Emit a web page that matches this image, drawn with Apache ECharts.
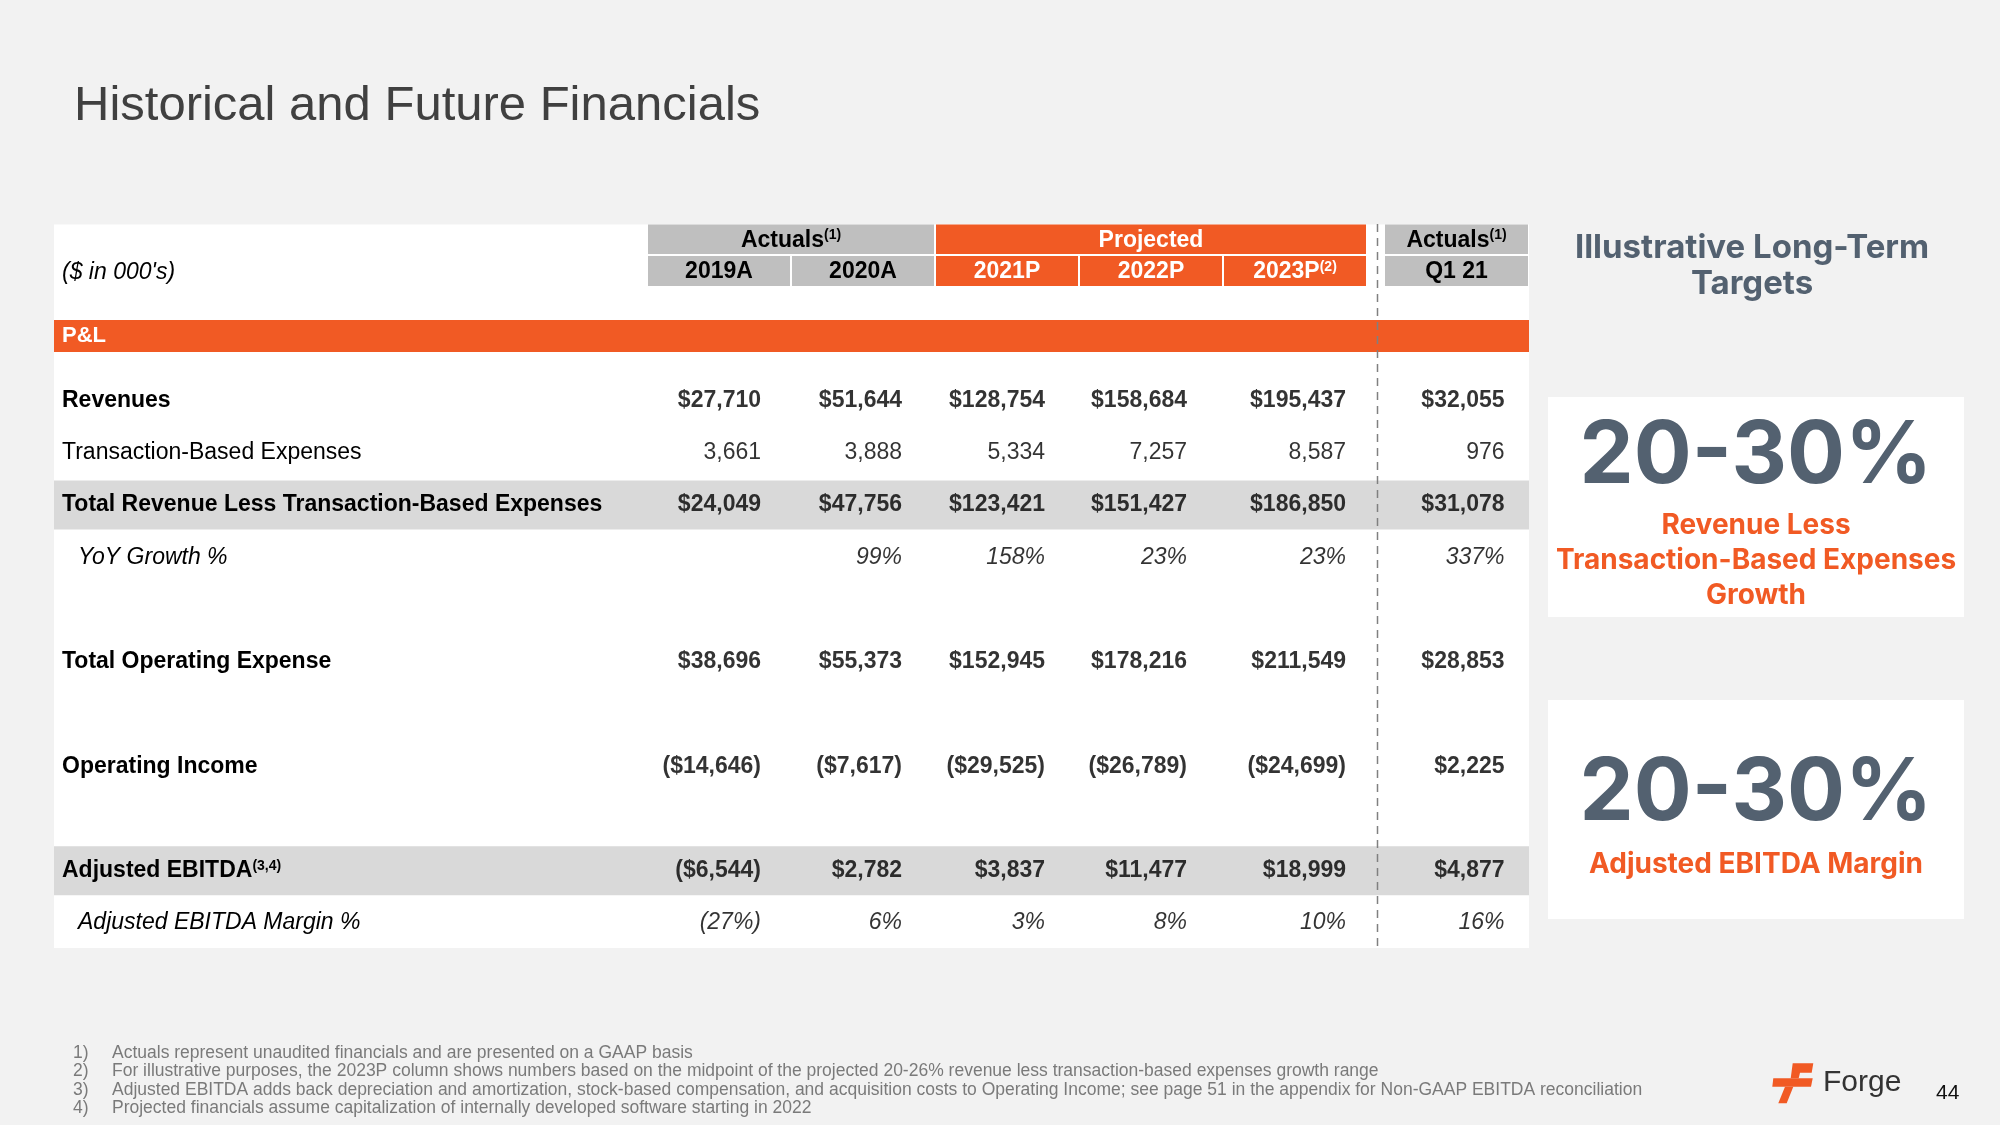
<!DOCTYPE html>
<html><head><meta charset="utf-8">
<script src="https://cdn.jsdelivr.net/npm/echarts@6/dist/echarts.min.js"></script>
<style>html,body{margin:0;padding:0;background:#f2f2f2}#c{width:2000px;height:1125px}</style>
</head><body><div id="c"></div>
<script>
// ---------- DATA ----------
const columns = ['2019A', '2020A', '2021P', '2022P', '2023P', 'Q1 21'];
const columnGroups = ['Actuals', 'Actuals', 'Projected', 'Projected', 'Projected', 'Actuals'];
const headerNotes = { 'Actuals': '(1)', '2023P': '(2)', 'Adjusted EBITDA': '(3,4)' };
const rowNames = ['Revenues', 'Transaction-Based Expenses', 'Total Revenue Less Transaction-Based Expenses',
  'YoY Growth %', 'Total Operating Expense', 'Operating Income', 'Adjusted EBITDA', 'Adjusted EBITDA Margin %'];
const revenues = [27710, 51644, 128754, 158684, 195437, 32055];
const transactionExpenses = [3661, 3888, 5334, 7257, 8587, 976];
const totalRevenueLessTBE = [24049, 47756, 123421, 151427, 186850, 31078];
const yoyGrowthPct = [null, 99, 158, 23, 23, 337];
const totalOperatingExpense = [38696, 55373, 152945, 178216, 211549, 28853];
const operatingIncome = [-14646, -7617, -29525, -26789, -24699, 2225];
const adjustedEbitda = [-6544, 2782, 3837, 11477, 18999, 4877];
const adjustedEbitdaMarginPct = [-27, 6, 3, 8, 10, 16];
const targetValues = ['20-30%', '20-30%'];
const targetLabels = ['Revenue Less\nTransaction-Based Expenses\nGrowth', 'Adjusted EBITDA Margin'];
const footnotes = [
  'Actuals represent unaudited financials and are presented on a GAAP basis',
  'For illustrative purposes, the 2023P column shows numbers based on the midpoint of the projected 20-26% revenue less transaction-based expenses growth range',
  'Adjusted EBITDA adds back depreciation and amortization, stock-based compensation, and acquisition costs to Operating Income; see page 51 in the appendix for Non-GAAP EBITDA reconciliation',
  'Projected financials assume capitalization of internally developed software starting in 2022'
];

// ---------- STYLE ----------
const FONT = '"Liberation Sans", Arial, sans-serif';
const FONT2 = 'Inter, "Liberation Sans", sans-serif';
const ORANGE = '#f15a24', HGRAY = '#bfbfbf', BAND = '#d9d9d9', SLATE = '#536170';
const FS = 23;
const G = { top: 374.5, bottom: 176 };
const gridA = Object.assign({ left: 54, right: 471 }, G);
const gridB = Object.assign({ left: 647, width: 720 }, G);
const gridC = Object.assign({ left: 1384, width: 145 }, G);
const cellPad = [42, 39, 38, 36, 51, 48];

// row table (spacer rows mirror the blank rows of the source sheet)
const rowSpecs = [
  { name: rowNames[0], values: revenues, fmt: 'dollar', weight: 'bold', style: 'normal' },
  { name: rowNames[1], values: transactionExpenses, fmt: 'plain', weight: 'normal', style: 'normal' },
  { name: rowNames[2], values: totalRevenueLessTBE, fmt: 'dollar', weight: 'bold', style: 'normal', shaded: true },
  { name: rowNames[3], values: yoyGrowthPct, fmt: 'pct', weight: 'normal', style: 'italic' },
  { name: rowNames[4], values: totalOperatingExpense, fmt: 'dollar', weight: 'bold', style: 'normal' },
  { name: rowNames[5], values: operatingIncome, fmt: 'dollar', weight: 'bold', style: 'normal' },
  { name: rowNames[6], values: adjustedEbitda, fmt: 'dollar', weight: 'bold', style: 'normal', shaded: true },
  { name: rowNames[7], values: adjustedEbitdaMarginPct, fmt: 'pct', weight: 'normal', style: 'italic' }
];
const yRows = [rowNames[0], rowNames[1], rowNames[2], rowNames[3], 'sp1', rowNames[4], 'sp2', rowNames[5], 'sp3', rowNames[6], rowNames[7]];
const specOf = {}; rowSpecs.forEach(s => specOf[s.name] = s);

function num(v) { return Math.abs(v).toLocaleString('en-US'); }
function fmt(kind, v) {
  if (kind === 'dollar') return v < 0 ? '($' + num(v) + ')' : '$' + num(v);
  if (kind === 'pct') return v < 0 ? '(' + num(v) + '%)' : num(v) + '%';
  return v < 0 ? '(' + num(v) + ')' : num(v);
}

function cellSeries(axisIdx, colIdxs) {
  return rowSpecs.map(spec => ({
    type: 'scatter', xAxisIndex: axisIdx, yAxisIndex: axisIdx, symbolSize: 1, silent: true, z: 5,
    itemStyle: { color: 'rgba(0,0,0,0)' },
    label: { show: true, position: 'inside', align: 'right', verticalAlign: 'middle', fontFamily: FONT,
      fontSize: FS, fontWeight: spec.weight, fontStyle: spec.style, color: '#000', formatter: '{b}' },
    data: colIdxs.filter(c => spec.values[c] != null).map(c => ({
      name: fmt(spec.fmt, spec.values[c]), value: [columns[c], spec.name], label: { offset: [cellPad[c], 0] }
    }))
  }));
}

const richRow = {
  b: { fontFamily: FONT, fontSize: FS, fontWeight: 'bold', color: '#000' },
  r: { fontFamily: FONT, fontSize: FS, color: '#000' },
  i: { fontFamily: FONT, fontSize: FS, fontStyle: 'italic', color: '#000', padding: [0, 0, 0, 16] },
  s: { fontFamily: FONT, fontSize: 14, fontWeight: 'bold', color: '#000', padding: [0, 0, 10, 0] }
};

const chart = echarts.init(document.getElementById('c'));
const hiddenY = i => ({ type: 'category', gridIndex: i, data: yRows, inverse: true, show: false });
chart.setOption({
  backgroundColor: '#f2f2f2',
  animation: false,
  grid: [gridA, gridB, gridC],
  xAxis: [
    { type: 'value', gridIndex: 0, min: 0, max: 1, show: false },
    { type: 'category', gridIndex: 1, data: columns.slice(0, 5), show: false },
    { type: 'category', gridIndex: 2, data: columns.slice(5), show: false }
  ],
  yAxis: [
    { type: 'category', gridIndex: 0, data: yRows, inverse: true, z: 10,
      axisLine: { show: false }, axisTick: { show: false }, splitLine: { show: false },
      axisLabel: { inside: true, margin: 8, rich: richRow,
        formatter: v => {
          const s = specOf[v]; if (!s) return '';
          if (headerNotes[v]) return '{b|' + v + '}{s|' + headerNotes[v] + '}';
          return (s.style === 'italic' ? '{i|' : s.weight === 'bold' ? '{b|' : '{r|') + v + '}';
        } } },
    hiddenY(1), hiddenY(2)
  ],
  series: [
    { type: 'bar', xAxisIndex: 0, yAxisIndex: 0, barWidth: 49, silent: true, z: 1,
      itemStyle: { color: BAND },
      data: yRows.map(r => (specOf[r] && specOf[r].shaded) ? 1 : '-') }
  ].concat(cellSeries(1, [0, 1, 2, 3, 4]), cellSeries(2, [5]))
});

// ---------- headers & page furniture ----------
const xs = columns.map((c, i) => chart.convertToPixel({ xAxisIndex: i < 5 ? 1 : 2 }, c));
const bwOf = i => i < 5 ? (xs[1] - xs[0]) : gridC.width;
const g = [];
g.push({ type: 'rect', z: -5, shape: { x: 54, y: 224.5, width: 1475, height: 723.5 }, style: { fill: '#fff' } });
// P&L bar
g.push({ type: 'rect', z: 0, shape: { x: 54, y: 320, width: 1475, height: 32 }, style: { fill: ORANGE } });
g.push({ type: 'text', z: 20, style: { text: 'P&L', x: 62, y: 336, font: 'bold 22px ' + FONT, fill: '#fff', verticalAlign: 'middle' } });
g.push({ type: 'text', z: 20, style: { text: "($ in 000's)", x: 62, y: 273, font: 'italic 23px ' + FONT, fill: '#000', verticalAlign: 'middle' } });
// dashed separator
g.push({ type: 'line', z: 20, shape: { x1: 1377.5, y1: 224, x2: 1377.5, y2: 948 }, style: { stroke: '#808080', lineWidth: 1.5, lineDash: [8, 6] } });

const richHead = (color) => ({
  m: { fontFamily: FONT, fontSize: FS, fontWeight: 'bold', fill: color, color: color },
  s: { fontFamily: FONT, fontSize: 14, fontWeight: 'bold', fill: color, color: color, padding: [0, 0, 10, 0] }
});
const headText = (t) => headerNotes[t] ? '{m|' + t + '}{s|' + headerNotes[t] + '}' : '{m|' + t + '}';
// column cells
columns.forEach((c, i) => {
  const bw = bwOf(i), proj = columnGroups[i] === 'Projected';
  const col = proj ? '#fff' : '#000';
  g.push({ type: 'rect', z: 2, shape: { x: xs[i] - bw / 2 + 1, y: 256, width: bw - 2, height: 30 }, style: { fill: proj ? ORANGE : HGRAY } });
  g.push({ type: 'text', z: 20, style: { text: headText(c), rich: richHead(col), x: xs[i], y: 272, align: 'center', verticalAlign: 'middle' } });
});
// group cells
let s = 0;
for (let i = 1; i <= columns.length; i++) {
  const breakHere = i === columns.length || columnGroups[i] !== columnGroups[s] || (i === 5);
  if (breakHere) {
    const e = i - 1, proj = columnGroups[s] === 'Projected';
    const x0 = xs[s] - bwOf(s) / 2 + 1, x1 = xs[e] + bwOf(e) / 2 - 1;
    g.push({ type: 'rect', z: 2, shape: { x: x0, y: 224.5, width: x1 - x0, height: 29.5 }, style: { fill: proj ? ORANGE : HGRAY } });
    g.push({ type: 'text', z: 20, style: { text: headText(columnGroups[s]), rich: richHead(proj ? '#fff' : '#000'), x: (x0 + x1) / 2, y: 240.5, align: 'center', verticalAlign: 'middle' } });
    s = i;
  }
}
// title
g.push({ type: 'text', z: 20, style: { text: 'Historical and Future Financials', x: 74, y: 106, font: '49px ' + FONT, fill: '#404040', verticalAlign: 'middle' } });
// right panel
g.push({ type: 'text', z: 20, style: { text: 'Illustrative Long-Term\nTargets', x: 1752, y: 266, font: 'bold 33px ' + FONT2, fill: SLATE, align: 'center', verticalAlign: 'middle', lineHeight: 36 } });
g.push({ type: 'rect', z: 0, shape: { x: 1548, y: 397, width: 416, height: 220 }, style: { fill: '#fff' } });
g.push({ type: 'rect', z: 0, shape: { x: 1548, y: 700, width: 416, height: 219 }, style: { fill: '#fff' } });
g.push({ type: 'text', z: 20, style: { text: targetValues[0], x: 1756, y: 457, font: 'bold 86px ' + FONT2, fill: SLATE, align: 'center', verticalAlign: 'middle' } });
g.push({ type: 'text', z: 20, style: { text: targetLabels[0], x: 1756, y: 561, font: 'bold 28px ' + FONT2, fill: ORANGE, align: 'center', verticalAlign: 'middle', lineHeight: 35 } });
g.push({ type: 'text', z: 20, style: { text: targetValues[1], x: 1756, y: 794, font: 'bold 86px ' + FONT2, fill: SLATE, align: 'center', verticalAlign: 'middle' } });
g.push({ type: 'text', z: 20, style: { text: targetLabels[1], x: 1756, y: 865, font: 'bold 28px ' + FONT2, fill: ORANGE, align: 'center', verticalAlign: 'middle' } });
// footnotes
footnotes.forEach((t, i) => {
  const y = 1053 + i * 18.5;
  g.push({ type: 'text', z: 20, style: { text: (i + 1) + ')', x: 73, y: y, font: '17.5px ' + FONT, fill: '#7a7a7a', verticalAlign: 'middle' } });
  g.push({ type: 'text', z: 20, style: { text: t, x: 112, y: y, font: '17.5px ' + FONT, fill: '#7a7a7a', verticalAlign: 'middle' } });
});
// logo
g.push({ type: 'polygon', z: 20, shape: { points: [[1792.7, 1063.3], [1813.3, 1063.3], [1811.7, 1072.7], [1800, 1072.7], [1798.7, 1078.3], [1790.7, 1078.3]] }, style: { fill: ORANGE } });
g.push({ type: 'polygon', z: 20, shape: { points: [[1773.3, 1078.3], [1812.7, 1078.3], [1811, 1086.7], [1772.3, 1086.7]] }, style: { fill: ORANGE } });
g.push({ type: 'polygon', z: 20, shape: { points: [[1785, 1086.7], [1793.3, 1086.7], [1786.7, 1103.3], [1778.3, 1103.3]] }, style: { fill: ORANGE } });
g.push({ type: 'text', z: 20, style: { text: 'Forge', x: 1823, y: 1083, font: '30px ' + FONT, fill: '#333', verticalAlign: 'middle' } });
g.push({ type: 'text', z: 20, style: { text: '44', x: 1936, y: 1093, font: '21px ' + FONT, fill: '#111', verticalAlign: 'middle' } });

chart.setOption({ graphic: { elements: g } });
</script></body></html>
